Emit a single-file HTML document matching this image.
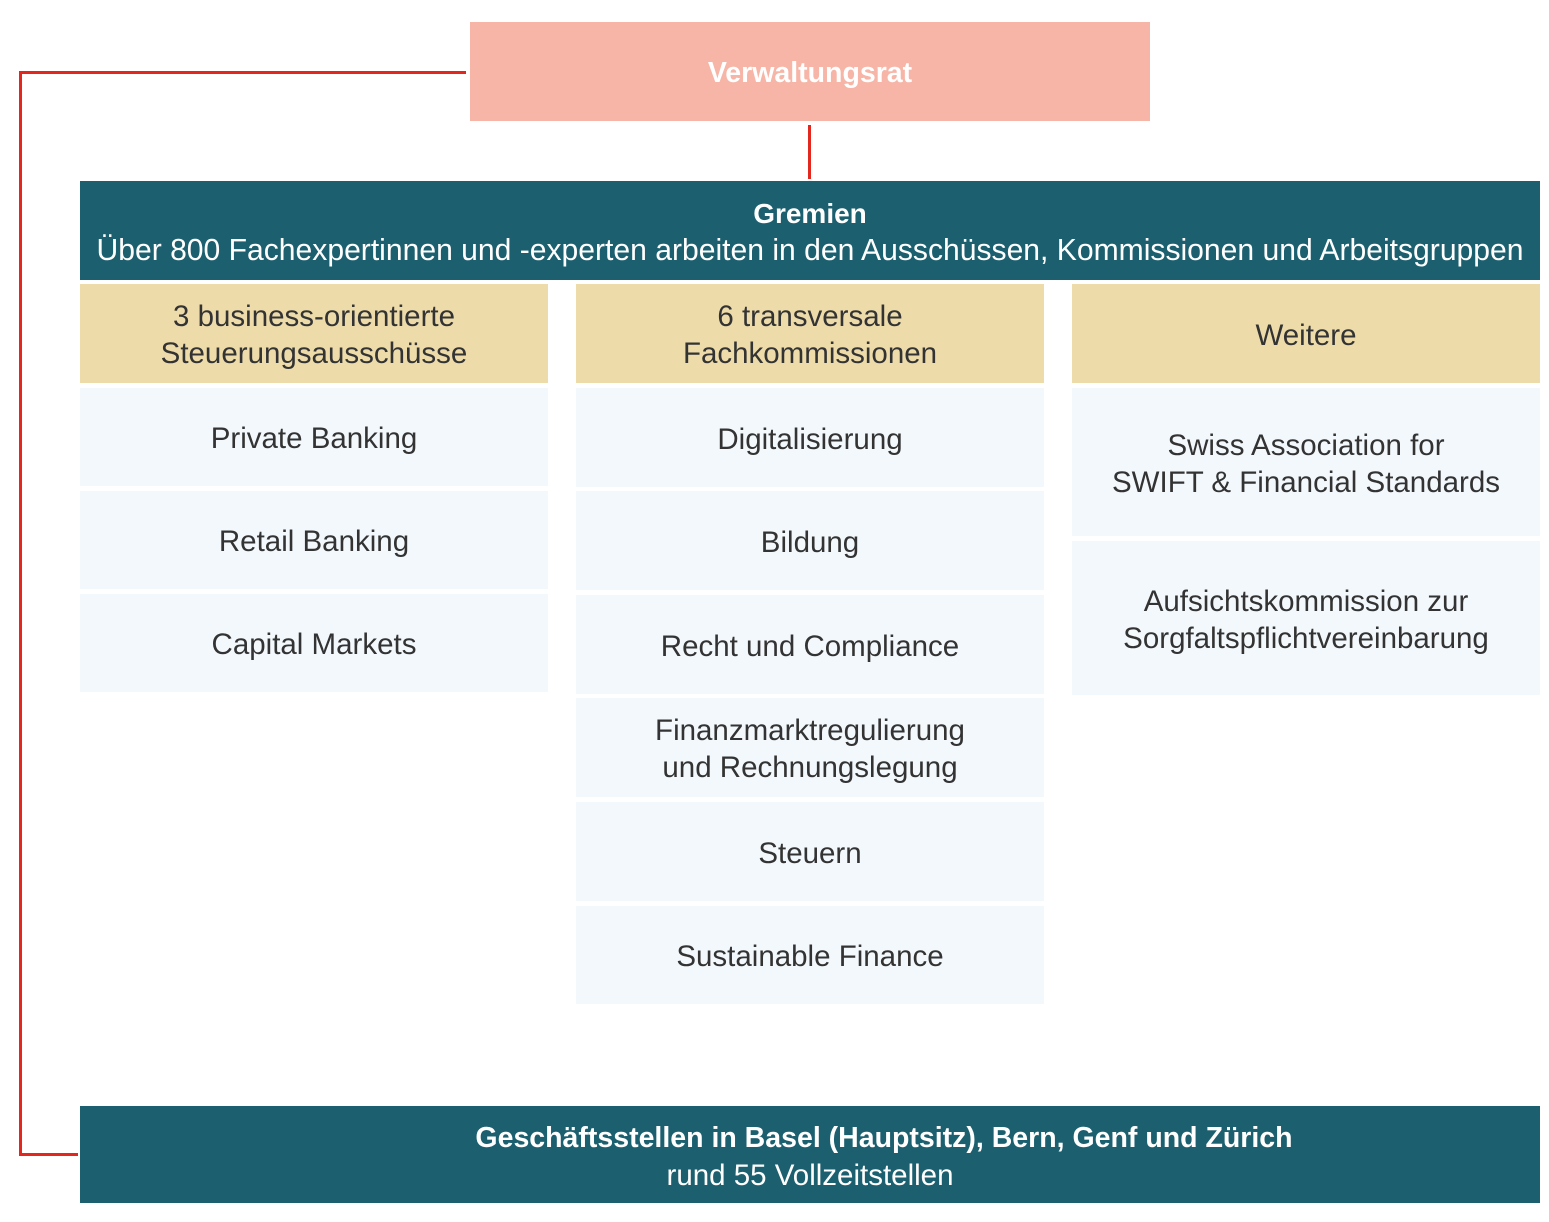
<!DOCTYPE html>
<html><head><meta charset="utf-8"><style>
body{margin:0;width:1549px;height:1222px;background:#fff;position:relative;font-family:"Liberation Sans",sans-serif;overflow:hidden}
.b{position:absolute;display:flex;align-items:center;justify-content:center;text-align:center;box-sizing:border-box;line-height:37px;font-size:29.5px;color:#333;padding-top:3px}
.h{background:#eddcaa}
.c{background:#f3f8fc}
.t{background:#1c6070;color:#fff}
.l{position:absolute;background:#e3261e}
</style></head><body>
<div class="l" style="left:19px;top:71px;width:447px;height:3px"></div>
<div class="l" style="left:19px;top:71px;width:3px;height:1085px"></div>
<div class="l" style="left:19px;top:1153px;width:59px;height:3px"></div>
<div class="l" style="left:808px;top:125px;width:3px;height:54px"></div>
<div class="b" style="left:470px;top:22px;width:680px;height:99px;background:#f6b5a6;color:#fff;font-weight:bold;font-size:28.5px">Verwaltungsrat</div>
<div class="b t" style="left:80px;top:181px;width:1460px;height:99px;flex-direction:column"><b style="font-size:28px">Gremien</b><span style="font-size:30.1px;white-space:nowrap">Über 800 Fachexpertinnen und -experten arbeiten in den Ausschüssen, Kommissionen und Arbeitsgruppen</span></div>
<div class="b h" style="left:80px;top:284px;width:468px;height:99px">3 business-orientierte<br>Steuerungsausschüsse</div>
<div class="b h" style="left:576px;top:284px;width:468px;height:99px">6 transversale<br>Fachkommissionen</div>
<div class="b h" style="left:1072px;top:284px;width:468px;height:99px">Weitere</div>
<div class="b c" style="left:80px;top:388px;width:468px;height:98px">Private Banking</div>
<div class="b c" style="left:80px;top:491px;width:468px;height:98px">Retail Banking</div>
<div class="b c" style="left:80px;top:594px;width:468px;height:98px">Capital Markets</div>
<div class="b c" style="left:576px;top:388px;width:468px;height:99px">Digitalisierung</div>
<div class="b c" style="left:576px;top:491px;width:468px;height:99px">Bildung</div>
<div class="b c" style="left:576px;top:595px;width:468px;height:99px">Recht und Compliance</div>
<div class="b c" style="left:576px;top:698px;width:468px;height:99px">Finanzmarktregulierung<br>und Rechnungslegung</div>
<div class="b c" style="left:576px;top:802px;width:468px;height:99px">Steuern</div>
<div class="b c" style="left:576px;top:906px;width:468px;height:98px">Sustainable Finance</div>
<div class="b c" style="left:1072px;top:388px;width:468px;height:148px">Swiss Association for<br>SWIFT &amp; Financial Standards</div>
<div class="b c" style="left:1072px;top:541px;width:468px;height:154px">Aufsichtskommission zur<br>Sorgfaltspflichtvereinbarung</div>
<div class="b t" style="left:80px;top:1106px;width:1460px;height:97px"></div>
<div style="position:absolute;left:334px;width:1100px;top:1120px;text-align:center;color:#fff;font-size:28.5px;font-weight:bold;line-height:37px;white-space:nowrap">Geschäftsstellen in Basel (Hauptsitz), Bern, Genf und Zürich</div>
<div style="position:absolute;left:310px;width:1000px;top:1157px;text-align:center;color:#fff;font-size:29.5px;line-height:37px">rund 55 Vollzeitstellen</div>
</body></html>
